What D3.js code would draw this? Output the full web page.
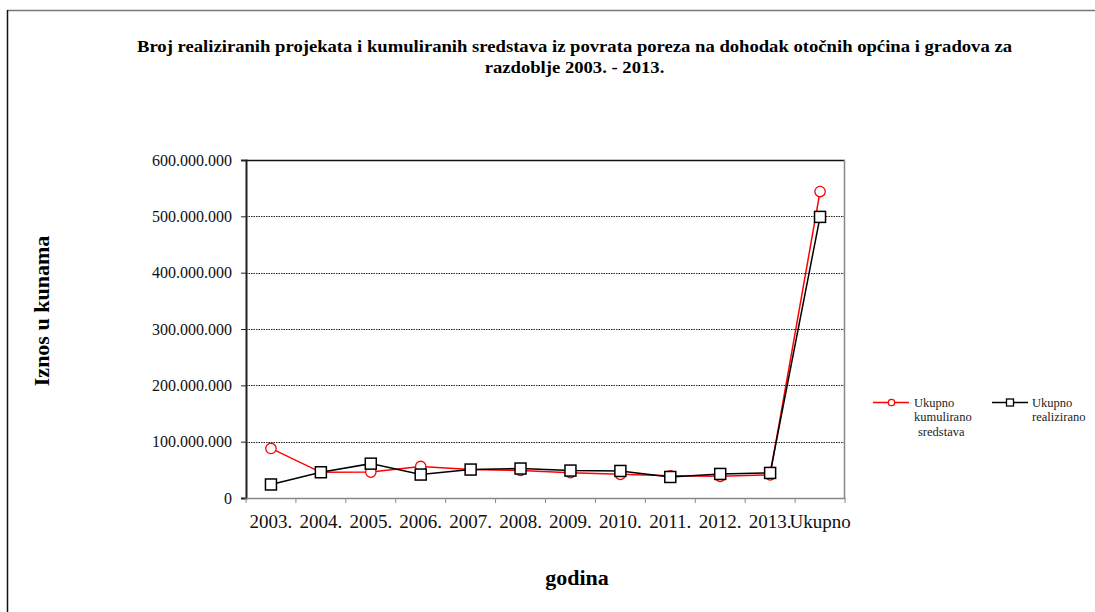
<!DOCTYPE html>
<html><head><meta charset="utf-8">
<script src="https://cdn.jsdelivr.net/npm/d3@7/dist/d3.min.js"></script>
<style>body{margin:0;background:#fff}svg{display:block}</style>
</head><body><svg id="c" width="1095" height="612" font-family="Liberation Serif"></svg>
<script>
const categories = ["2003.","2004.","2005.","2006.","2007.","2008.","2009.","2010.","2011.","2012.","2013.","Ukupno"];
const kumulirano = [88000000,45500000,46000000,56000000,50500000,49000000,45000000,42000000,39500000,38500000,41000000,544000000];
const realizirano = [24000000,45700000,61000000,41600000,50500000,52300000,48700000,48000000,37300000,42700000,44500000,499000000];
const yTicks = [0,100000000,200000000,300000000,400000000,500000000,600000000];
const seriesNames = ["Ukupno kumulirano sredstava","Ukupno realizirano"];
const titleLines = ["Broj realiziranih projekata i kumuliranih sredstava iz povrata poreza na dohodak otočnih općina i gradova za","razdoblje 2003. - 2013."];

const FONT = "Liberation Serif";
const svg = d3.select("#c");
const m = {left:246, right:845, top:160, bottom:498};

// outer frame
svg.append("line").attr("x1",7).attr("x2",1095).attr("y1",10.5).attr("y2",10.5).attr("stroke","#777").attr("stroke-width",1.5);
svg.append("line").attr("x1",7.5).attr("x2",7.5).attr("y1",10).attr("y2",612).attr("stroke","#111").attr("stroke-width",1.5);

// title
const t1 = svg.append("text").attr("x",574.5).attr("y",52).attr("text-anchor","middle").attr("font-family",FONT)
  .attr("font-weight","bold").attr("font-size",16).text(titleLines[0]);
const t2 = svg.append("text").attr("x",574.5).attr("y",73).attr("text-anchor","middle").attr("font-family",FONT)
  .attr("font-weight","bold").attr("font-size",16).text(titleLines[1]);
const ratio = 875 / t1.node().getComputedTextLength();
t1.attr("textLength",875).attr("lengthAdjust","spacingAndGlyphs");
t2.attr("textLength",t2.node().getComputedTextLength()*ratio).attr("lengthAdjust","spacingAndGlyphs");

const x = d3.scaleBand().domain(categories).range([m.left,m.right]);
const y = d3.scaleLinear().domain([0,600000000]).range([m.bottom,m.top]);
const fmt = v => v===0 ? "0" : d3.format(",")(v).replace(/,/g,".");

// gridlines
svg.append("g").selectAll("line").data(yTicks.filter(v=>v>0 && v<600000000)).join("line")
  .attr("x1",m.left).attr("x2",m.right).attr("y1",d=>Math.round(y(d))+0.5).attr("y2",d=>Math.round(y(d))+0.5)
  .attr("stroke","#222").attr("stroke-dasharray","1.5,1").attr("stroke-width",1);

// plot frame top/right
svg.append("line").attr("x1",m.left).attr("x2",m.right).attr("y1",m.top+0.5).attr("y2",m.top+0.5).attr("stroke","#111").attr("stroke-width",1.3);
svg.append("line").attr("x1",m.right-0.5).attr("x2",m.right-0.5).attr("y1",m.top).attr("y2",m.bottom).attr("stroke","#888").attr("stroke-width",1.5);

// y axis
const yAxis = svg.append("g").attr("transform",`translate(${m.left},0)`)
  .call(d3.axisLeft(y).tickValues(yTicks).tickFormat(fmt).tickSize(5).tickPadding(9));
yAxis.select(".domain").attr("stroke","#222").attr("stroke-width",2);
yAxis.selectAll(".tick line").attr("stroke","#222");
yAxis.selectAll("text").attr("font-size",16).attr("font-family",FONT).attr("fill","#111");

// x axis
const xAxis = svg.append("g").attr("transform",`translate(0,${m.bottom})`)
  .call(d3.axisBottom(x).tickSize(0).tickPadding(12));
xAxis.select(".domain").attr("stroke","#888").attr("stroke-width",1.5);
xAxis.selectAll("text").attr("font-size",19).attr("font-family",FONT).attr("fill","#111").attr("y",30).attr("dy",0);
svg.append("g").selectAll("line").data(d3.range(categories.length+1)).join("line")
  .attr("x1",i=>m.left+i*x.step()).attr("x2",i=>m.left+i*x.step())
  .attr("y1",m.bottom).attr("y2",m.bottom+5).attr("stroke","#888");

// axis titles
svg.append("text").attr("transform","translate(49,311) rotate(-90)").attr("text-anchor","middle").attr("font-family",FONT)
  .attr("font-weight","bold").attr("font-size",22).text("Iznos u kunama");
svg.append("text").attr("x",577).attr("y",585).attr("text-anchor","middle").attr("font-family",FONT)
  .attr("font-weight","bold").attr("font-size",22).text("godina");

const cx = c => x(c)+x.bandwidth()/2;
const line = d3.line().x((d,i)=>cx(categories[i])).y(d=>y(d));

// red series
svg.append("path").datum(kumulirano).attr("d",line).attr("fill","none").attr("stroke","#f00").attr("stroke-width",1.5);
svg.append("g").selectAll("circle").data(kumulirano).join("circle")
  .attr("cx",(d,i)=>cx(categories[i])).attr("cy",d=>y(d)).attr("r",5.2)
  .attr("fill","#fff").attr("stroke","#f00").attr("stroke-width",1.3);
// black series
svg.append("path").datum(realizirano).attr("d",line).attr("fill","none").attr("stroke","#000").attr("stroke-width",1.5);
svg.append("g").selectAll("rect").data(realizirano).join("rect")
  .attr("x",(d,i)=>cx(categories[i])-5.5).attr("y",d=>y(d)-5.5).attr("width",11).attr("height",11)
  .attr("fill","#fff").attr("stroke","#000").attr("stroke-width",1.5);

// legend
const lg = svg.append("g").attr("font-size",12.5).attr("font-family",FONT).attr("fill","#222");
lg.append("line").attr("x1",873).attr("x2",909).attr("y1",402.5).attr("y2",402.5).attr("stroke","#f00").attr("stroke-width",1.3);
lg.append("circle").attr("cx",891.5).attr("cy",402.5).attr("r",3.2).attr("fill","#fff").attr("stroke","#f00").attr("stroke-width",1.3);
lg.append("text").attr("x",914).attr("y",407).text("Ukupno");
lg.append("text").attr("x",914).attr("y",421).text("kumulirano");
lg.append("text").attr("x",918).attr("y",436).text("sredstava");
lg.append("line").attr("x1",992).attr("x2",1028).attr("y1",402.5).attr("y2",402.5).attr("stroke","#000").attr("stroke-width",1.3);
lg.append("rect").attr("x",1006.5).attr("y",399).attr("width",7).attr("height",7).attr("fill","#fff").attr("stroke","#000").attr("stroke-width",1.3);
lg.append("text").attr("x",1032).attr("y",407).text("Ukupno");
lg.append("text").attr("x",1032).attr("y",421).text("realizirano");
</script></body></html>
